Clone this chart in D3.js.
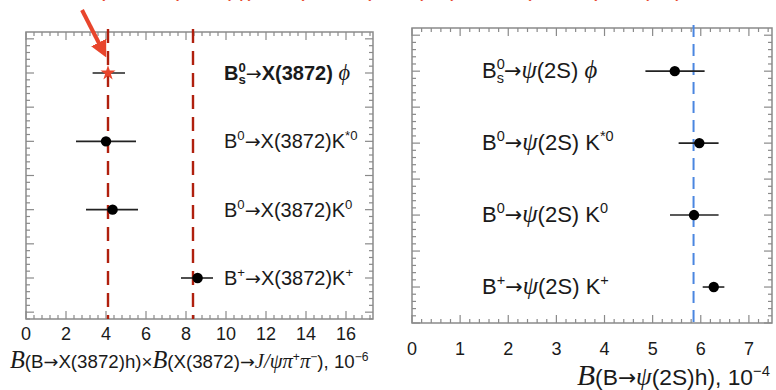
<!DOCTYPE html>
<html>
<head>
<meta charset="utf-8">
<script src="https://cdn.jsdelivr.net/npm/d3@7"></script>
<style>
  body { margin: 0; background: #fff; }
  svg { display: block; font-family: "Liberation Sans", Arial, sans-serif; }
</style>
</head>
<body>
<div id="chart"></div>
<script>
var width = 776, height = 390;

// Left panel data: B(B->X(3872)h) x B(X(3872)->J/psi pi pi), 10^-6
var leftDecays = ["Bs_X_phi", "B0_X_Kst0", "B0_X_K0", "Bp_X_Kp"];
var leftValues = [4.1, 4.0, 4.33, 8.58];
var leftLow    = [3.33, 2.5, 3.0, 7.75];
var leftHigh   = [4.95, 5.5, 5.6, 9.35];
var leftLines  = [4.1, 8.35];
var leftTicks  = [0, 2, 4, 6, 8, 10, 12, 14, 16];

// Right panel data: B(B->psi(2S)h), 10^-4
var rightDecays = ["Bs_psi_phi", "B0_psi_Kst0", "B0_psi_K0", "Bp_psi_Kp"];
var rightValues = [5.46, 5.97, 5.86, 6.27];
var rightLow    = [4.85, 5.54, 5.36, 6.04];
var rightHigh   = [6.08, 6.37, 6.37, 6.49];
var rightLines  = [5.85];
var rightTicks  = [0, 1, 2, 3, 4, 5, 6, 7];

// label pieces: [text, style]  n normal, a arrow, sup, sub (stacked under previous sup), i italic serif
var labelParts = {
  Bs_X_phi:   [["B","n"],["0","sup"],["s","sub"],["→","a"],["X(3872)","n"],[" ϕ","i"]],
  B0_X_Kst0:  [["B","n"],["0","sup"],["→","a"],["X(3872)K","n"],["*0","sup"]],
  B0_X_K0:    [["B","n"],["0","sup"],["→","a"],["X(3872)K","n"],["0","sup"]],
  Bp_X_Kp:    [["B","n"],["+","sup"],["→","a"],["X(3872)K","n"],["+","sup"]],
  Bs_psi_phi: [["B","n"],["0","sup"],["s","sub"],["→","a"],["ψ","i"],["(2S)","n"],[" ϕ","i"]],
  B0_psi_Kst0:[["B","n"],["0","sup"],["→","a"],["ψ","i"],["(2S)","n"],[" K","n"],["*0","sup"]],
  B0_psi_K0:  [["B","n"],["0","sup"],["→","a"],["ψ","i"],["(2S)","n"],[" K","n"],["0","sup"]],
  Bp_psi_Kp:  [["B","n"],["+","sup"],["→","a"],["ψ","i"],["(2S)","n"],[" K","n"],["+","sup"]]
};

var serif = "'Liberation Serif', 'DejaVu Serif', serif";

var svg = d3.select("#chart").append("svg")
  .attr("width", width).attr("height", height);

svg.append("defs").append("marker")
  .attr("id", "arrowhead")
  .attr("viewBox", "0 0 10 10").attr("refX", 7).attr("refY", 5)
  .attr("markerWidth", 4.2).attr("markerHeight", 4.2)
  .attr("orient", "auto")
  .append("path").attr("d", "M0,0 L10,5 L0,10 Z").attr("fill", "#e8452c");

// rich text with sup/sub/arrow/italic pieces
function richText(g, x, y, parts, size, bold) {
  var t = g.append("text").attr("x", x).attr("y", y)
    .attr("font-size", size).attr("fill", "#1a1a1a")
    .attr("font-weight", bold ? "bold" : null);
  var lastSupW = 0, shifted = 0;
  parts.forEach(function(p) {
    var s = t.append("tspan").text(p[0]);
    var st = p[1];
    var dy = -shifted;
    shifted = 0;
    if (st == "sup") {
      s.attr("font-size", size * 0.66);
      dy += -size * 0.4; shifted = -size * 0.4;
      lastSupW = s.node().getComputedTextLength();
    } else if (st == "sub") {
      s.attr("font-size", size * 0.66).attr("dx", -lastSupW);
      dy += size * 0.22; shifted = size * 0.22;
    } else if (st == "a") {
      s.attr("font-family", "'DejaVu Sans', sans-serif").attr("font-weight", "normal")
        .attr("font-size", size * 0.95);
    } else if (st == "i") {
      s.attr("font-family", serif)
        .attr("font-style", "italic").attr("font-weight", "normal")
        .attr("font-size", size * 1.12);
    }
    if (dy) s.attr("dy", dy);
  });
  return t;
}

function drawPanel(cfg) {
  var x = d3.scaleLinear().domain(cfg.xDomain).range(cfg.xRange);
  var y = d3.scaleLinear().domain([-0.6, cfg.yMax]).range(cfg.yRange);
  var g = svg.append("g");
  var x0 = cfg.xRange[0], x1 = cfg.xRange[1], y0 = cfg.yRange[0], y1 = cfg.yRange[1];
  var axisColor = "#8a8a8a";

  // frame
  g.append("rect").attr("x", x0).attr("y", y0)
    .attr("width", x1 - x0).attr("height", y1 - y0)
    .attr("fill", "none").attr("stroke", axisColor).attr("stroke-width", 1.5);

  // x ticks top and bottom
  var xMinor = d3.range(0, cfg.xDomain[1] + 1e-9, cfg.xMinorStep);
  xMinor.forEach(function(v) {
    var isMajor = Math.abs(v / cfg.xMajorStep - Math.round(v / cfg.xMajorStep)) < 1e-6;
    var len = isMajor ? 8 : 4;
    g.append("line").attr("x1", x(v)).attr("x2", x(v)).attr("y1", y1).attr("y2", y1 - len)
      .attr("stroke", axisColor).attr("stroke-width", 1.2);
    g.append("line").attr("x1", x(v)).attr("x2", x(v)).attr("y1", y0).attr("y2", y0 + len)
      .attr("stroke", axisColor).attr("stroke-width", 1.2);
  });

  // y ticks left and right
  var yMinor = d3.range(-0.5, cfg.yMax + 1e-9, 0.1);
  yMinor.forEach(function(v) {
    var isMajor = Math.abs(v * 2 - Math.round(v * 2)) < 1e-6;
    var len = isMajor ? 8 : 4;
    g.append("line").attr("x1", x0).attr("x2", x0 + len).attr("y1", y(v)).attr("y2", y(v))
      .attr("stroke", axisColor).attr("stroke-width", 1.2);
    g.append("line").attr("x1", x1).attr("x2", x1 - len).attr("y1", y(v)).attr("y2", y(v))
      .attr("stroke", axisColor).attr("stroke-width", 1.2);
  });

  // tick labels
  g.selectAll(".tl").data(cfg.ticks).enter().append("text")
    .attr("x", function(d) { return x(d); })
    .attr("y", cfg.tickLabelY)
    .attr("text-anchor", "middle")
    .attr("font-size", cfg.tickSize)
    .attr("fill", "#1a1a1a")
    .text(function(d) { return d; });

  // reference lines
  cfg.lines.forEach(function(v) {
    g.append("line").attr("x1", x(v)).attr("x2", x(v))
      .attr("y1", y0 - 3).attr("y2", y1)
      .attr("stroke", cfg.lineColor).attr("stroke-width", cfg.lineWidth)
      .attr("stroke-dasharray", cfg.dash);
  });

  // labels
  cfg.decays.forEach(function(d, i) {
    richText(g, cfg.labelX, y(i) + cfg.labelDy, labelParts[d], cfg.labelSize, cfg.boldFirst && i == 0);
  });

  // error bars and points
  cfg.values.forEach(function(v, i) {
    g.append("line").attr("x1", x(cfg.low[i])).attr("x2", x(cfg.high[i]))
      .attr("y1", y(i)).attr("y2", y(i))
      .attr("stroke", "#222").attr("stroke-width", 1.6);
    if (cfg.redFirst && i == 0) {
      g.append("path")
        .attr("d", d3.symbol().type(d3.symbolStar).size(70)())
        .attr("transform", "translate(" + x(v) + "," + y(i) + ")")
        .attr("fill", "#e8452c");
    } else {
      g.append("circle").attr("cx", x(v)).attr("cy", y(i)).attr("r", 5.2).attr("fill", "#000");
    }
  });
  return { x: x, y: y, g: g };
}

var left = drawPanel({
  xDomain: [0, 17.35], xRange: [26, 373], yMax: 3.6, yRange: [32, 319],
  xMajorStep: 2, xMinorStep: 0.4, ticks: leftTicks, tickLabelY: 340, tickSize: 18,
  lines: leftLines, lineColor: "#b0200e", lineWidth: 2.4, dash: "14,8",
  decays: leftDecays, labelX: 224, labelDy: 7, labelSize: 20, boldFirst: true,
  values: leftValues, low: leftLow, high: leftHigh, redFirst: true
});

var right = drawPanel({
  xDomain: [0, 7.48], xRange: [412, 772], yMax: 3.5, yRange: [28, 323],
  xMajorStep: 1, xMinorStep: 0.2, ticks: rightTicks, tickLabelY: 355, tickSize: 18,
  lines: rightLines, lineColor: "#4a86e0", lineWidth: 2, dash: "12,7",
  decays: rightDecays, labelX: 482, labelDy: 7, labelSize: 22, boldFirst: false,
  values: rightValues, low: rightLow, high: rightHigh, redFirst: false
});

// axis titles
function titleText(x, y, size, parts) {
  var t = svg.append("text").attr("x", x).attr("y", y).attr("font-size", size).attr("fill", "#1a1a1a");
  var shifted = 0;
  parts.forEach(function(p) {
    var s = t.append("tspan").text(p[0]);
    var dy = -shifted; shifted = 0;
    if (p[1] == "B") s.attr("font-family", serif).attr("font-style", "italic").attr("font-size", size * 1.3);
    if (p[1] == "i") s.attr("font-family", serif).attr("font-style", "italic").attr("font-size", size * 1.1);
    if (p[1] == "a") s.attr("font-family", "'DejaVu Sans', sans-serif").attr("font-size", size * 0.95);
    if (p[1] == "sup") { s.attr("font-size", size * 0.65); dy += -size * 0.4; shifted = -size * 0.4; }
    if (dy) s.attr("dy", dy);
  });
  return t;
}
titleText(10, 368, 18.7, [["B","B"],["(B","n"],["→","a"],["X(3872)h)×","n"],["B","B"],["(X(3872)","n"],["→","a"],
  ["J/ψπ","i"],["+","sup"],["π","i"],["−","sup"],["), 10","n"],["−6","sup"]]);
titleText(577, 385, 22.8, [["B","B"],["(B","n"],["→","a"],["ψ","i"],["(2S)h), 10","n"],["−4","sup"]]);

// cut-off annotation at the very top and arrow to the Bs point
svg.append("text").attr("x", 80).attr("y", -4)
  .attr("font-size", 22).attr("fill", "#e8452c")
  .text("ℬ(B⁰ₛ→X(3872)ϕ) ≈ ℬ(B⁰→X(3872)K⁰) ≈ ½ ℬ(B⁺→X(3872)K⁺)");

svg.append("line")
  .attr("x1", 82).attr("y1", 10)
  .attr("x2", left.x(leftValues[0]) - 4).attr("y2", left.y(0) - 20)
  .attr("stroke", "#e8452c").attr("stroke-width", 4)
  .attr("marker-end", "url(#arrowhead)");
</script>
</body>
</html>
